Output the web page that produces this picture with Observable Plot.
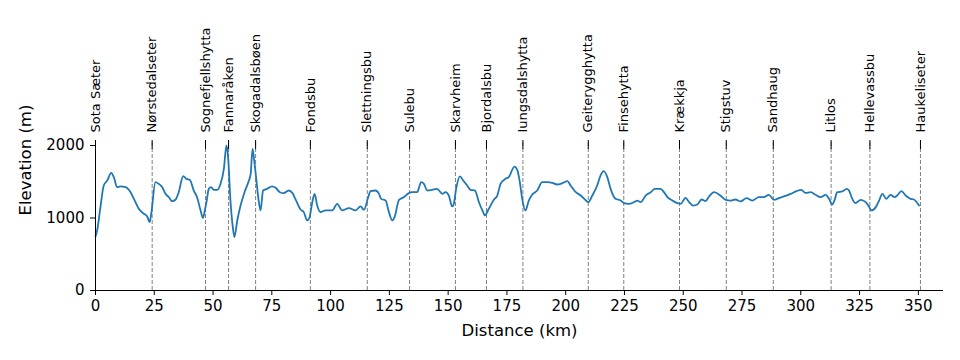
<!DOCTYPE html>
<html>
<head>
<meta charset="utf-8">
<script src="https://cdn.jsdelivr.net/npm/d3@7"></script>
<script src="https://cdn.jsdelivr.net/npm/@observablehq/plot@0.6"></script>
<style>
  html, body { margin: 0; padding: 0; background: #fff; }
  #chart svg { display: block; }
</style>
</head>
<body>
<div id="chart"></div>
<script>
// Hut names along the route and their distance (km)
const hutNames = ["Sota Sæter","Nørstedalseter","Sognefjellshytta","Fannaråken","Skogadalsbøen","Fondsbu","Slettningsbu","Sulebu","Skarvheim","Bjordalsbu","Iungsdalshytta","Geiterygghytta","Finsehytta","Krækkja","Stigstuv","Sandhaug","Litlos","Hellevassbu","Haukeliseter"];
const hutKm = [0,24.1,46.8,56.6,68.1,91.4,115.6,133.6,153.1,166.3,181.8,209.6,224.7,248.4,268.3,288.3,312.9,329.4,350.9];

// Elevation profile: distance (km) and elevation (m)
const distKm = [
  0,0.7,2.1,3.5,5.0,6.7,7.8,9.2,10.6,12.8,
  14.9,17.0,18.4,20.6,22.0,23.0,23.7,25.5,26.9,28.4,
  29.8,31.2,32.6,34.0,35.4,37.3,38.7,40.1,41.8,43.2,
  44.7,45.7,46.5,47.2,48.2,49.2,50.3,51.8,53.2,54.6,
  55.7,56.4,57.4,58.4,59.1,60.3,61.7,63.4,65.0,66.0,
  66.8,67.5,68.3,69.5,70.2,71.3,73.0,75.1,76.6,78.4,
  80.1,82.2,83.7,
  85.0,87.2,88.6,90.0,91.0,92.2,93.2,94.3,95.7,97.8,
  100.7,102.8,104.9,107.8,110.6,112.7,114.2,116.0,117.0,119.1,
  120.6,121.5,123.4,124.8,126.2,127.2,129.1,131.1,133.3,134.7,
  136.8,138.5,139.7,141.1,143.2,145.3,147.5,148.9,150.3,151.7,
  152.4,153.4,155.0,156.4,158.1,159.5,161.4,163.1,164.9,165.6,
  167.3,169.5,170.9,172.3,
  174.4,175.8,178.2,179.4,180.5,181.5,182.9,184.3,185.8,187.9,
  190.0,192.2,194.3,196.4,198.6,200.7,202.1,204.3,206.4,208.6,
  209.6,211.3,213.4,214.8,216.2,217.7,219.1,221.2,223.4,224.8,
  226.9,229.0,230.5,231.9,234.0,236.2,237.9,240.4,241.8,243.3,
  245.4,247.5,248.9,251.0,252.5,254.3,256.0,257.8,259.5,261.0,
  263.1,265.8,268.0,270.1,272.2,274.4,276.9,279.3,282.2,284.3,
  286.4,288.6,290.7,292.8,295.7,298.2,300.2,302.0,304.2,306.3,
  308.4,310.6,312.0,313.4,314.4,315.5,317.7,319.5,320.5,321.9,
  323.3,325.5,327.6,329.0,330.0,331.9,333.3,334.7,336.4,338.2,
  339.9,341.0,342.8,344.6,346.7,348.1,350.3
];
const elevM = [
  745,828,1150,1448,1517,1623,1563,1425,1435,1425,
  1356,1218,1127,1058,1021,943,1058,1494,1471,1425,
  1333,1287,1232,1251,1356,1577,1540,1527,1379,1287,
  1104,1002,1104,1218,1402,1425,1389,1389,1471,1678,
  2000,1839,1241,874,736,966,1172,1356,1494,1609,
  1954,1793,1563,1218,1104,1379,1402,1435,1416,1356,
  1343,1379,1347,
  1264,1117,1081,966,1002,1218,1333,1172,1081,1104,
  1104,1195,1104,1136,1104,1159,1113,1287,1370,1379,
  1333,1264,1241,1081,966,1012,1251,1287,1343,1356,
  1356,1494,1471,1379,1389,1402,1333,1356,1310,1159,
  1195,1402,1573,1517,1448,1389,1379,1218,1081,1035,
  1127,1255,1310,1471,
  1540,1563,1710,1664,1494,1264,1104,1241,1324,1379,
  1494,1494,1485,1462,1481,1508,1448,1356,1310,1241,
  1218,1310,1448,1586,1646,1563,1402,1264,1241,1205,
  1195,1218,1241,1218,1310,1356,1402,1402,1356,1287,
  1241,1205,1195,1278,1218,1172,1186,1255,1232,1297,
  1356,1310,1251,1241,1255,1228,1274,1241,1287,1287,
  1320,1251,1274,1297,1333,1370,1389,1347,1356,1320,
  1287,1320,1264,1186,1251,1356,1366,1402,1379,1264,
  1205,1251,1218,1159,1104,1150,1241,1333,1264,1320,
  1287,1310,1370,1310,1264,1255,1172
];

const xTicks = [0,25,50,75,100,125,150,175,200,225,250,275,300,325,350];
const yTicks = [0,1000,2000];
const xLabel = "Distance (km)";
const yLabel = "Elevation (m)";

const profile = distKm.map((d, i) => ({km: d, m: elevM[i]}));
const huts = hutNames.map((n, i) => ({name: n, km: hutKm[i]}));

const xMax = 360.7, yMax = 2069;

const chart = Plot.plot({
  width: 960,
  height: 360,
  marginLeft: 95,
  marginRight: 17,
  marginTop: 140,
  marginBottom: 70,
  style: {fontFamily: "DejaVu Sans", fontSize: "15px", color: "#000", background: "#fff", overflow: "visible"},
  x: {domain: [0, xMax], label: null},
  y: {domain: [0, yMax], label: null},
  marks: [
    Plot.ruleX(huts, {x: "km", y1: 0, y2: yMax, stroke: "#808080", strokeWidth: 1, strokeDasharray: "4,2"}),
    Plot.axisX(hutKm, {anchor: "top", tickSize: 9, dy: 8, tickFormat: () => "", label: null, strokeWidth: 1}),
    Plot.line(profile, {x: "km", y: "m", stroke: "#1f77b4", strokeWidth: 1.8, curve: "monotone-x"}),
    Plot.axisX(xTicks, {anchor: "bottom", tickSize: 5, tickPadding: 5, tickFormat: d => String(d), label: null}),
    Plot.axisY(yTicks, {anchor: "left", tickSize: 5, tickPadding: 6, tickFormat: d => String(d), label: null}),
    Plot.ruleY([0], {stroke: "#000", strokeWidth: 1}),
    Plot.ruleX([0], {stroke: "#000", strokeWidth: 1}),
    Plot.text(huts, {x: "km", text: "name", frameAnchor: "top", dy: -8, rotate: -90, textAnchor: "start", lineAnchor: "middle", fontSize: 13, fill: "#000"}),
    Plot.text([xLabel], {frameAnchor: "bottom", dy: 40, lineAnchor: "middle", fontSize: 16.5, fill: "#000"}),
    Plot.text([yLabel], {frameAnchor: "left", dx: -70, rotate: -90, lineAnchor: "middle", fontSize: 16.5, fill: "#000"})
  ]
});
document.getElementById("chart").appendChild(chart);
</script>
</body>
</html>
